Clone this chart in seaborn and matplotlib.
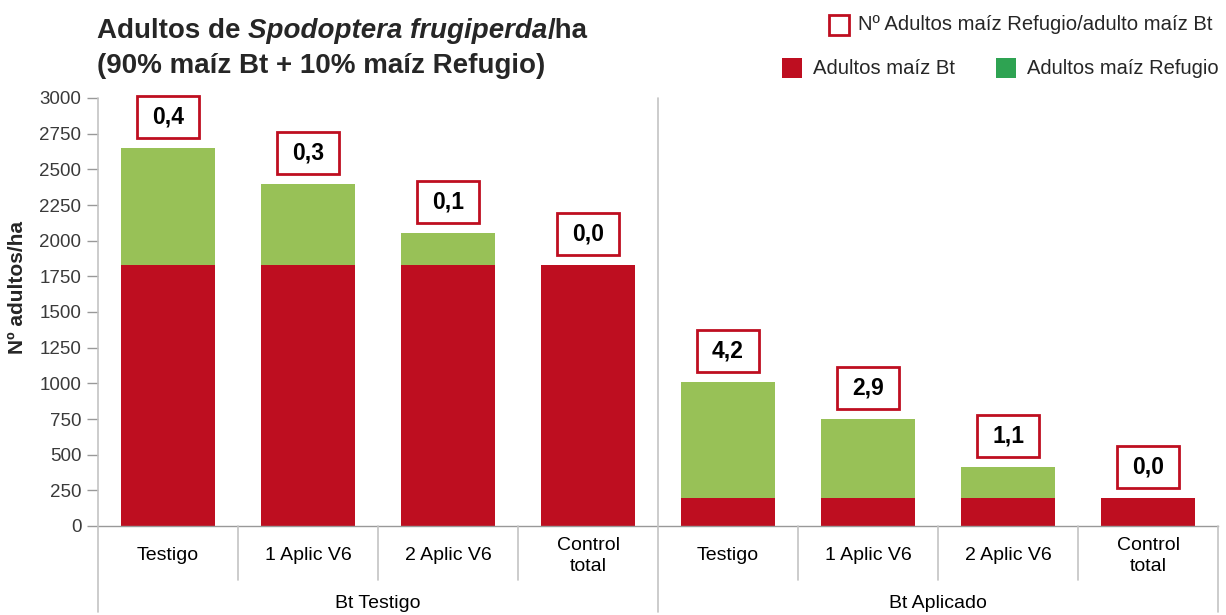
import matplotlib
matplotlib.use("Agg")
import matplotlib.pyplot as plt
import matplotlib.transforms as mtransforms
from matplotlib.patches import Rectangle
from matplotlib.lines import Line2D
import seaborn as sns
import pandas as pd

# ---- data ----
groups = ["Bt Testigo", "Bt Aplicado"]
treatments = ["Testigo", "1 Aplic V6", "2 Aplic V6", "Control\ntotal"]
bt_adults = [1830, 1830, 1830, 1830, 195, 195, 195, 195]
refugio_adults = [820, 570, 225, 0, 815, 555, 218, 0]
ratio_labels = ["0,4", "0,3", "0,1", "0,0", "4,2", "2,9", "1,1", "0,0"]
y_ticks = [0, 250, 500, 750, 1000, 1250, 1500, 1750, 2000, 2250, 2500, 2750, 3000]

RED = "#BE0E20"
GREEN = "#98C157"
GREEN_LEG = "#2EA352"
GRID = "#C4C4C4"

W, H = 1226, 615
sns.set_theme(style="white")
plt.rcParams["font.family"] = ["Liberation Sans", "DejaVu Sans"]

ids = [f"{g}|{t}" for g in groups for t in treatments]
df = pd.DataFrame({
    "id": ids,
    "bt": bt_adults,
    "total": [b + r for b, r in zip(bt_adults, refugio_adults)],
})

fig = plt.figure(figsize=(W / 100, H / 100), dpi=100)
fx = lambda x: x / W
fy = lambda y: 1 - y / H
ax = fig.add_axes([fx(98), fy(526), fx(1218) - fx(98), fy(98) - fy(526)])

sns.barplot(data=df, x="id", y="total", order=ids, color=GREEN, width=0.67,
            saturation=1, ax=ax)
sns.barplot(data=df, x="id", y="bt", order=ids, color=RED, width=0.67,
            saturation=1, ax=ax)
for p in ax.patches:
    p.set_edgecolor("none")

ax.set_xlim(-0.5, 7.5)
ax.set_ylim(0, 3000)
ax.set_yticks(y_ticks)
ax.set_yticklabels([str(v) for v in y_ticks], fontsize=13.5, color="#3A3A3A")
ax.set_xticks([])
ax.set_xlabel("")
ax.set_ylabel("")
ax.tick_params(axis="y", direction="out", length=8, width=1, color="#999999",
               pad=4, left=True)
for s in ["top", "right", "left"]:
    ax.spines[s].set_visible(False)
ax.spines["bottom"].set_color("#999999")
ax.spines["bottom"].set_linewidth(1)

# ratio boxes
px_per_unit = (526 - 98) / 3000.0
box_w = 62 / 140.0
box_h = 42 / px_per_unit
gap = 10 / px_per_unit
for i, (tot, lab) in enumerate(zip(df["total"], ratio_labels)):
    y0 = tot + gap
    ax.add_patch(Rectangle((i - box_w / 2, y0), box_w, box_h, facecolor="white",
                           edgecolor=RED, linewidth=2, clip_on=False, zorder=5))
    ax.text(i, y0 + box_h / 2, lab, ha="center", va="center", fontsize=16.5,
            fontweight="bold", color="black", zorder=6, clip_on=False)

# separator lines (figure pixels)
def vline(x, y1, y2):
    fig.add_artist(Line2D([fx(x), fx(x)], [fy(y1), fy(y2)], color=GRID, lw=1.2))

vline(98, 98, 612)
vline(658, 98, 612)
vline(1218, 526, 612)
for k in range(8):
    x = 98 + 140 * k
    if k not in (0, 4):
        vline(x, 526, 580)

# category labels
blend = mtransforms.blended_transform_factory(ax.transData, fig.transFigure)
for i, t in enumerate(treatments * 2):
    ax.text(i, fy(556), t, transform=blend, ha="center", va="center",
            fontsize=14, color="black", linespacing=1.35)
for gi, g in enumerate(groups):
    fig.text(fx(378 + 560 * gi), fy(604), g, ha="center", va="center",
             fontsize=14, color="black")

# y label
fig.text(fx(18), fy(287), "Nº adultos/ha", rotation=90, ha="center",
         va="center", fontsize=15, fontweight="bold")

# title with italic species name
renderer = fig.canvas.get_renderer()
x_cur = fx(97)
pieces = [("Adultos de ", "normal"), ("Spodoptera frugiperda", "italic"), ("/ha", "normal")]
for txt, style in pieces:
    t = fig.text(x_cur, fy(38), txt, ha="left", va="baseline", fontsize=20,
                 fontweight="bold", fontstyle=style)
    bb = t.get_window_extent(renderer=renderer)
    x_cur = x_cur + bb.width / W
fig.text(fx(97), fy(73), "(90% maíz Bt + 10% maíz Refugio)", ha="left",
         va="baseline", fontsize=20, fontweight="bold")

# legend
def legsq(x, y, face, edge, lw=0):
    fig.add_artist(Rectangle((fx(x), fy(y + 20)), 20 / W, 20 / H, facecolor=face,
                             edgecolor=edge, linewidth=lw, transform=fig.transFigure))

legsq(829, 15, "white", RED, 2)
fig.text(fx(858), fy(25), "Nº Adultos maíz Refugio/adulto maíz Bt", ha="left",
         va="center", fontsize=14.6)
legsq(782, 58, RED, "none")
fig.text(fx(813), fy(68), "Adultos maíz Bt", ha="left", va="center", fontsize=14.6)
legsq(996, 58, GREEN_LEG, "none")
fig.text(fx(1027), fy(68), "Adultos maíz Refugio", ha="left", va="center", fontsize=14.5)

fig.savefig("out.png", dpi=100)
